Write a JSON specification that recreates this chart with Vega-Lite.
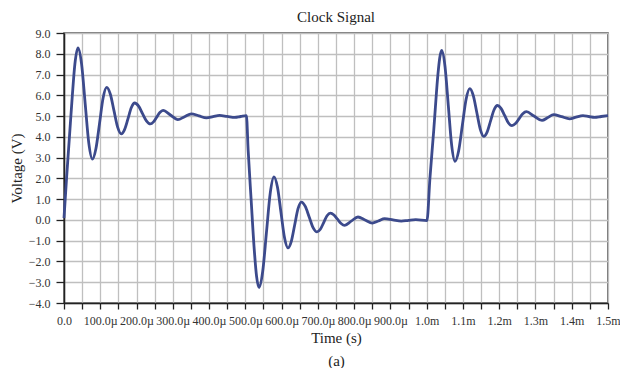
{
  "$schema": "https://vega.github.io/schema/vega-lite/v6.json",
  "width": 544,
  "height": 270,
  "autosize": "none",
  "padding": {"left": 64, "top": 33, "right": 12, "bottom": 65},
  "background": "white",
  "title": {"text": "Clock Signal", "font": "Liberation Serif", "fontSize": 15, "fontWeight": "normal", "color": "#222", "offset": 2, "frame": "group"},
  "config": {
    "view": {"stroke": "#4a4a4a", "strokeWidth": 1.5},
    "axis": {
      "labelFont": "Liberation Serif",
      "labelFontSize": 12,
      "labelColor": "#333",
      "titleFont": "Liberation Serif",
      "titleFontSize": 15,
      "titleFontWeight": "normal",
      "titleColor": "#222",
      "domainColor": "#222",
      "domainWidth": 1.5,
      "tickColor": "#222",
      "tickWidth": 1.3,
      "gridColor": "#bfbfbf",
      "gridWidth": 1.3,
      "gridOpacity": 1,
      "labelOverlap": false,
      "labelFlush": false
    }
  },
  "data": {
    "values": [
      {"t": 0, "v": 0.09}, {"t": 7, "v": 2.0}, {"t": 15, "v": 4.0}, {"t": 23, "v": 6.0}, {"t": 30, "v": 7.5}, {"t": 38.6, "v": 8.28},
      {"t": 48.5, "v": 7.5}, {"t": 58.4, "v": 5.6}, {"t": 68.3, "v": 3.71}, {"t": 78.2, "v": 2.93},
      {"t": 88.1, "v": 3.44}, {"t": 98, "v": 4.65}, {"t": 107.8, "v": 5.87}, {"t": 117.7, "v": 6.38},
      {"t": 127.8, "v": 6.05}, {"t": 137.8, "v": 5.26}, {"t": 147.9, "v": 4.47}, {"t": 158, "v": 4.14},
      {"t": 167.25, "v": 4.36}, {"t": 176.5, "v": 4.88}, {"t": 185.75, "v": 5.41}, {"t": 195, "v": 5.63},
      {"t": 205.75, "v": 5.48}, {"t": 216.5, "v": 5.12}, {"t": 227.25, "v": 4.77}, {"t": 238, "v": 4.62},
      {"t": 246.75, "v": 4.72}, {"t": 255.5, "v": 4.95}, {"t": 264.25, "v": 5.17}, {"t": 273, "v": 5.27},
      {"t": 293.5, "v": 5.05}, {"t": 314, "v": 4.83}, {"t": 332.5, "v": 4.97},
      {"t": 351, "v": 5.11}, {"t": 372, "v": 5.01}, {"t": 393, "v": 4.91}, {"t": 411, "v": 4.97}, {"t": 429, "v": 5.03},
      {"t": 450, "v": 4.985}, {"t": 471, "v": 4.94}, {"t": 487, "v": 4.98}, {"t": 503, "v": 5.02},
      {"t": 507.7, "v": 3.38}, {"t": 516, "v": 0.97}, {"t": 524.6, "v": -1.43}, {"t": 531, "v": -2.72}, {"t": 537.6, "v": -3.25},
      {"t": 547.95, "v": -2.47}, {"t": 558.3, "v": -0.59}, {"t": 568.65, "v": 1.29}, {"t": 579, "v": 2.07},
      {"t": 588.65, "v": 1.57}, {"t": 598.3, "v": 0.36}, {"t": 607.95, "v": -0.85}, {"t": 617.6, "v": -1.35},
      {"t": 626.8, "v": -1.03}, {"t": 636.05, "v": -0.245}, {"t": 645.3, "v": 0.54}, {"t": 654.5, "v": 0.86},
      {"t": 665.3, "v": 0.65}, {"t": 676.05, "v": 0.14}, {"t": 686.8, "v": -0.37}, {"t": 697.6, "v": -0.58},
      {"t": 706.8, "v": -0.45}, {"t": 716, "v": -0.125}, {"t": 725.3, "v": 0.2}, {"t": 734.5, "v": 0.33},
      {"t": 744.35, "v": 0.24}, {"t": 754, "v": 0.035}, {"t": 764.05, "v": -0.17}, {"t": 773.9, "v": -0.26},
      {"t": 792, "v": -0.06}, {"t": 810.6, "v": 0.14}, {"t": 830, "v": 0.0},
      {"t": 850, "v": -0.15}, {"t": 867, "v": -0.05}, {"t": 884, "v": 0.06}, {"t": 907, "v": 0.0}, {"t": 930, "v": -0.06},
      {"t": 950, "v": -0.02}, {"t": 970, "v": 0.01}, {"t": 1000.8, "v": -0.03},
      {"t": 1009, "v": 2.0}, {"t": 1019.6, "v": 4.34}, {"t": 1031, "v": 7.0}, {"t": 1036, "v": 7.8}, {"t": 1041.5, "v": 8.16},
      {"t": 1050.6, "v": 7.38}, {"t": 1059.75, "v": 5.49}, {"t": 1068.9, "v": 3.6}, {"t": 1078, "v": 2.82},
      {"t": 1088.25, "v": 3.33}, {"t": 1098.5, "v": 4.57}, {"t": 1108.75, "v": 5.81}, {"t": 1119, "v": 6.32},
      {"t": 1128.6, "v": 5.98}, {"t": 1138.25, "v": 5.17}, {"t": 1147.9, "v": 4.36}, {"t": 1157.5, "v": 4.02},
      {"t": 1166.9, "v": 4.24}, {"t": 1176.25, "v": 4.77}, {"t": 1185.6, "v": 5.29}, {"t": 1195, "v": 5.51},
      {"t": 1205, "v": 5.37}, {"t": 1215, "v": 5.03}, {"t": 1225, "v": 4.68}, {"t": 1235, "v": 4.54},
      {"t": 1245, "v": 4.64}, {"t": 1255, "v": 4.88}, {"t": 1265, "v": 5.11}, {"t": 1275, "v": 5.21},
      {"t": 1296, "v": 5.0}, {"t": 1318, "v": 4.79}, {"t": 1334, "v": 4.93},
      {"t": 1350, "v": 5.07}, {"t": 1372, "v": 4.97}, {"t": 1394, "v": 4.87}, {"t": 1412, "v": 4.95}, {"t": 1431, "v": 5.02},
      {"t": 1447, "v": 4.98}, {"t": 1463, "v": 4.94}, {"t": 1481, "v": 4.98}, {"t": 1500, "v": 5.02}
    ]
  },
  "mark": {"type": "line", "interpolate": "monotone", "color": "#3c4a8c", "strokeWidth": 2.8},
  "encoding": {
    "x": {
      "field": "t",
      "type": "quantitative",
      "scale": {"domain": [0, 1500], "nice": false, "zero": false},
      "axis": {
        "title": ["Time (s)", "(a)"],
        "titleLineHeight": 23,
        "titlePadding": 4,
        "values": [0, 50, 100, 150, 200, 250, 300, 350, 400, 450, 500, 550, 600, 650, 700, 750, 800, 850, 900, 950, 1000, 1050, 1100, 1150, 1200, 1250, 1300, 1350, 1400, 1450, 1500],
        "labelExpr": "datum.value % 100 != 0 ? '' : (datum.value == 0 ? '0.0' : (datum.value < 1000 ? format(datum.value, '.1f') + 'µ' : format(datum.value / 1000, '.1f') + 'm'))",
        "tickSize": 6,
        "labelPadding": 6
      }
    },
    "y": {
      "field": "v",
      "type": "quantitative",
      "scale": {"domain": [-4, 9], "nice": false, "zero": false},
      "axis": {
        "title": "Voltage (V)",
        "values": [-4, -3, -2, -1, 0, 1, 2, 3, 4, 5, 6, 7, 8, 9],
        "format": ".1f",
        "tickSize": 8,
        "labelPadding": 6,
        "titlePadding": 4
      }
    }
  }
}
